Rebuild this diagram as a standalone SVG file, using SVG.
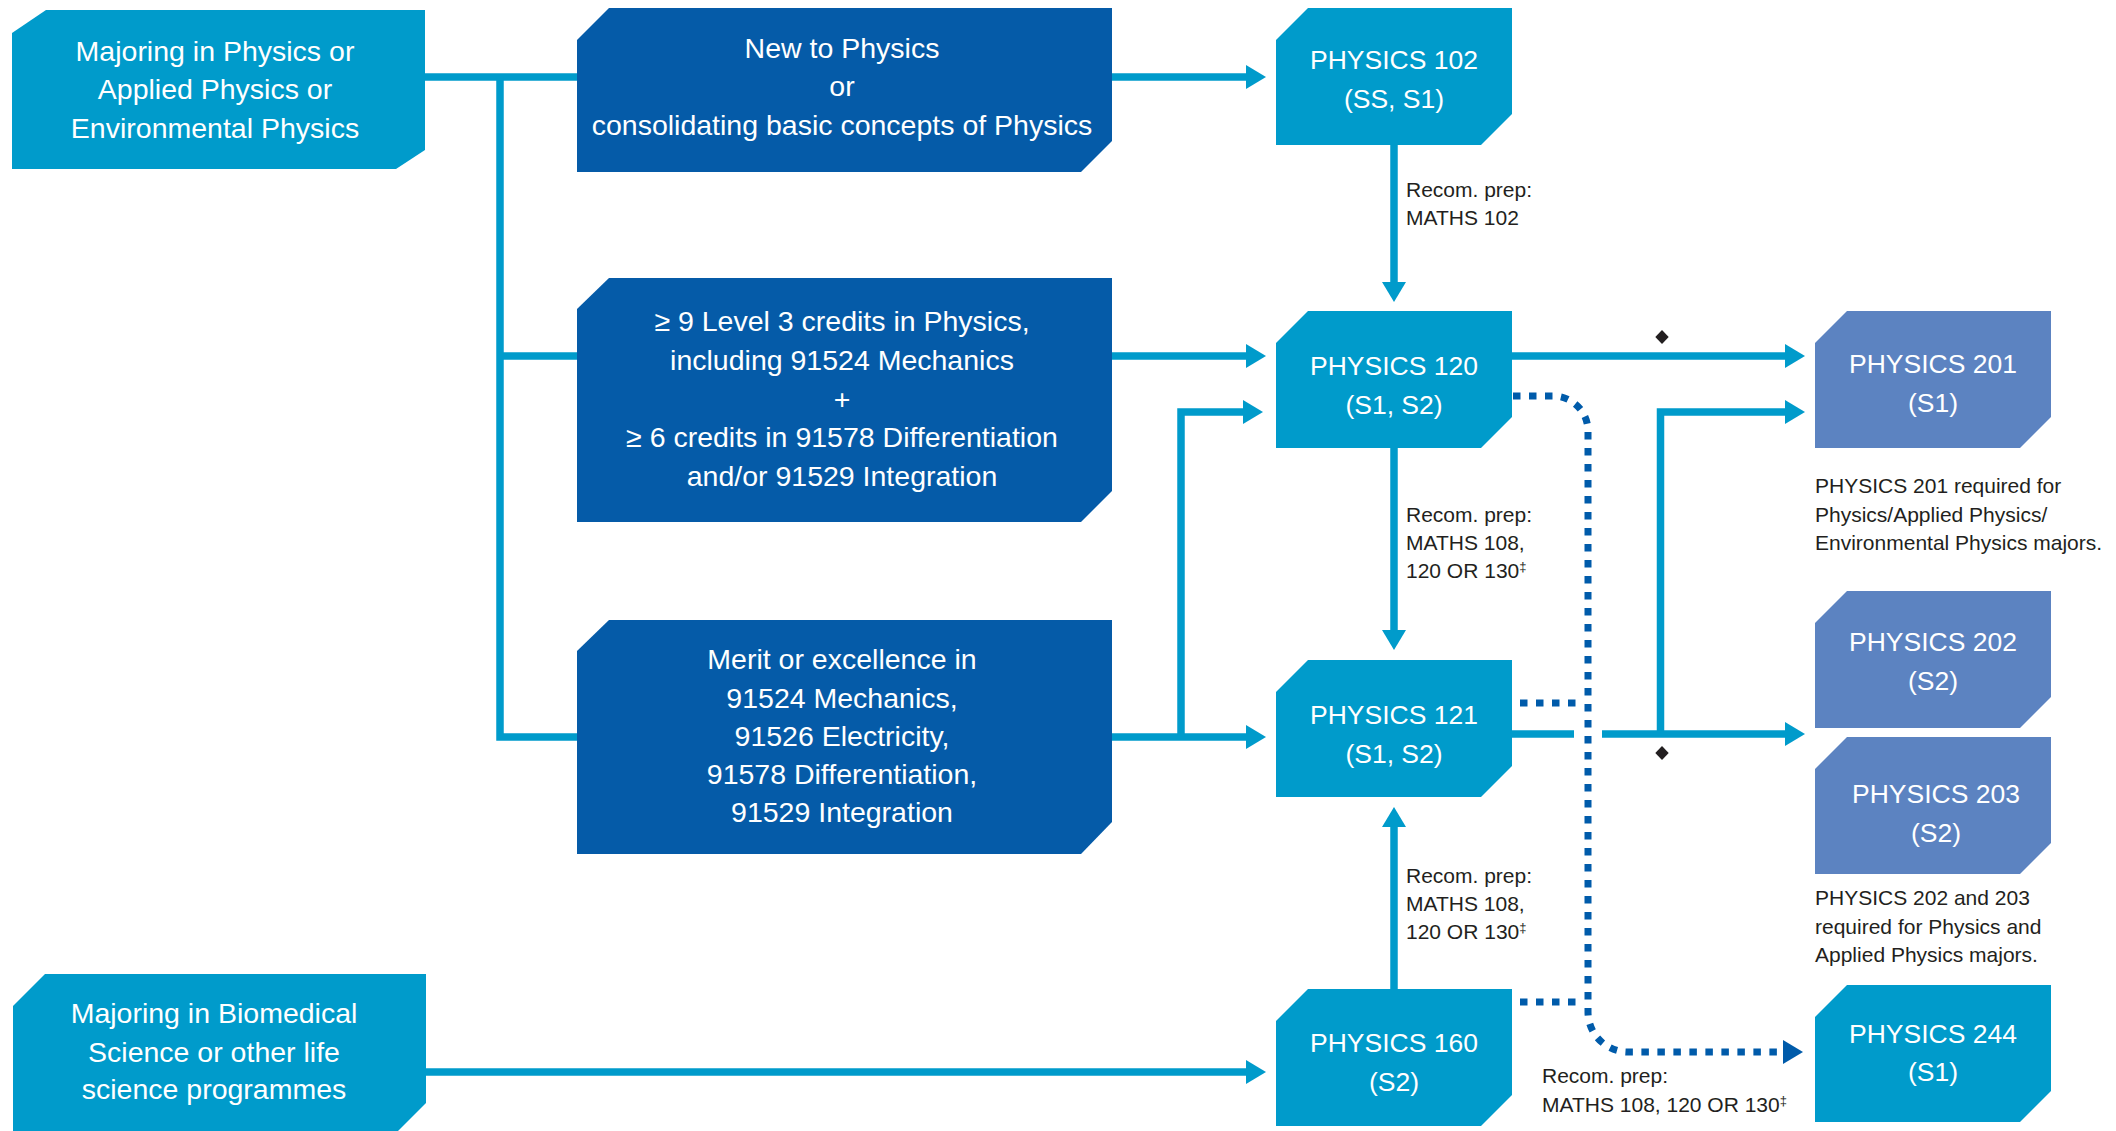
<svg xmlns="http://www.w3.org/2000/svg" xmlns:xlink="http://www.w3.org/1999/xlink" width="2116" height="1131" viewBox="0 0 2116 1131">
<style>
.lt{fill:#009BCB}
.dk{fill:#055BA8}
.pu{fill:#5C83C1}
.nt{font-family:"Liberation Sans",Arial,sans-serif;fill:#FFFFFF;text-anchor:middle}
.big{font-size:28.5px}
.crs{font-size:26.5px}
.note{font-family:"Liberation Sans",Arial,sans-serif;font-size:21px;fill:#231F20}
.sup{font-size:13px}
.ln{fill:none;stroke:#009BCB;stroke-width:7.5}
.dot{fill:none;stroke:#005BAA;stroke-width:7;stroke-dasharray:7.5 8.5}
.dia{fill:#231F20}
</style>
<defs>
<path id="course" d="M0,32 L32,0 L236,0 L236,106 L205,137 L0,137 Z"/>
<marker id="ah" markerUnits="userSpaceOnUse" markerWidth="22" markerHeight="26" refX="1" refY="12" orient="auto" overflow="visible">
<path d="M0,0 L20,12 L0,24 Z" fill="#009BCB"/>
</marker>
<marker id="ahd" markerUnits="userSpaceOnUse" markerWidth="22" markerHeight="26" refX="1" refY="12" orient="auto" overflow="visible">
<path d="M0,0 L20,12 L0,24 Z" fill="#005BAA"/>
</marker>
</defs>
<rect width="2116" height="1131" fill="#FFFFFF"/>

<g id="connectors">
<path class="ln" d="M424,77 H578"/>
<path class="ln" d="M500,77 V737 H578"/>
<path class="ln" d="M500,356 H578"/>
<path class="ln" d="M1111,77 H1247" marker-end="url(#ah)"/>
<path class="ln" d="M1111,356 H1247" marker-end="url(#ah)"/>
<path class="ln" d="M1111,737 H1247" marker-end="url(#ah)"/>
<path class="ln" d="M1181,737 V412 H1244" marker-end="url(#ah)"/>
<path class="ln" d="M1394,144 V283" marker-end="url(#ah)"/>
<path class="ln" d="M1394,447 V631" marker-end="url(#ah)"/>
<path class="ln" d="M1394,990 V826" marker-end="url(#ah)"/>
<path class="ln" d="M425,1072 H1247" marker-end="url(#ah)"/>
<path class="ln" d="M1511,356 H1786" marker-end="url(#ah)"/>
<path class="ln" d="M1511,734 H1574"/>
<path class="ln" d="M1602,734 H1786" marker-end="url(#ah)"/>
<path class="ln" d="M1660.5,734 V412 H1786" marker-end="url(#ah)"/>
<polygon class="dia" points="1662,330 1668.7,337 1662,344 1655.3,337"/>
<polygon class="dia" points="1662,746 1668.7,753 1662,760 1655.3,753"/>
<path class="dot" d="M1513,396 H1553 A35,35 0 0 1 1588,431 V1012 A40,40 0 0 0 1628,1052 H1784" marker-end="url(#ahd)"/>
<path class="dot" d="M1520,703 H1580"/>
<path class="dot" d="M1520,1002 H1580"/>
</g>

<g id="node-majoring-physics">
<polygon class="lt" points="12,33 46,10 425,10 425,150 396,169 12,169"/>
<text class="nt big" x="215" y="61">Majoring in Physics or</text>
<text class="nt big" x="215" y="99">Applied Physics or</text>
<text class="nt big" x="215" y="137.7">Environmental Physics</text>
</g>

<g id="node-new-to-physics">
<polygon class="dk" points="577,40 609,8 1112,8 1112,141 1081,172 577,172"/>
<text class="nt big" x="842" y="58">New to Physics</text>
<text class="nt big" x="842" y="96">or</text>
<text class="nt big" x="842" y="134.6">consolidating basic concepts of Physics</text>
</g>

<g id="node-level3-credits">
<polygon class="dk" points="577,309 609,278 1112,278 1112,491 1081,522 577,522"/>
<text class="nt big" x="842" y="331.4">≥ 9 Level 3 credits in Physics,</text>
<text class="nt big" x="842" y="370">including 91524 Mechanics</text>
<text class="nt big" x="842" y="408.6">+</text>
<text class="nt big" x="842" y="447.2">≥ 6 credits in 91578 Differentiation</text>
<text class="nt big" x="842" y="485.8">and/or 91529 Integration</text>
</g>

<g id="node-merit-excellence">
<polygon class="dk" points="577,651 609,620 1112,620 1112,822 1081,854 577,854"/>
<text class="nt big" x="842" y="668.5">Merit or excellence in</text>
<text class="nt big" x="842" y="707.5">91524 Mechanics,</text>
<text class="nt big" x="842" y="745.7">91526 Electricity,</text>
<text class="nt big" x="842" y="784">91578 Differentiation,</text>
<text class="nt big" x="842" y="822.2">91529 Integration</text>
</g>

<g id="node-biomedical">
<polygon class="lt" points="13,1006 45,974 426,974 426,1103 394,1135 13,1135"/>
<text class="nt big" x="214" y="1023">Majoring in Biomedical</text>
<text class="nt big" x="214" y="1061.8">Science or other life</text>
<text class="nt big" x="214" y="1099">science programmes</text>
</g>

<g id="node-physics-102">
<use xlink:href="#course" href="#course" class="lt" x="1276" y="8"/>
<text class="nt crs" x="1394" y="69">PHYSICS 102</text>
<text class="nt crs" x="1394" y="107.5">(SS, S1)</text>
</g>

<g id="node-physics-120">
<use xlink:href="#course" href="#course" class="lt" x="1276" y="311"/>
<text class="nt crs" x="1394" y="375">PHYSICS 120</text>
<text class="nt crs" x="1394" y="413.5">(S1, S2)</text>
</g>

<g id="node-physics-121">
<use xlink:href="#course" href="#course" class="lt" x="1276" y="660"/>
<text class="nt crs" x="1394" y="724">PHYSICS 121</text>
<text class="nt crs" x="1394" y="762.5">(S1, S2)</text>
</g>

<g id="node-physics-160">
<use xlink:href="#course" href="#course" class="lt" x="1276" y="989"/>
<text class="nt crs" x="1394" y="1052">PHYSICS 160</text>
<text class="nt crs" x="1394" y="1090.5">(S2)</text>
</g>

<g id="node-physics-201">
<use xlink:href="#course" href="#course" class="pu" x="1815" y="311"/>
<text class="nt crs" x="1933" y="373">PHYSICS 201</text>
<text class="nt crs" x="1933" y="411.5">(S1)</text>
</g>

<g id="node-physics-202">
<use xlink:href="#course" href="#course" class="pu" x="1815" y="591"/>
<text class="nt crs" x="1933" y="651">PHYSICS 202</text>
<text class="nt crs" x="1933" y="689.5">(S2)</text>
</g>

<g id="node-physics-203">
<use xlink:href="#course" href="#course" class="pu" x="1815" y="737"/>
<text class="nt crs" x="1936" y="803">PHYSICS 203</text>
<text class="nt crs" x="1936" y="841.5">(S2)</text>
</g>

<g id="node-physics-244">
<use xlink:href="#course" href="#course" class="lt" x="1815" y="985"/>
<text class="nt crs" x="1933" y="1042.5">PHYSICS 244</text>
<text class="nt crs" x="1933" y="1081">(S1)</text>
</g>

<g id="labels">
<text class="note" x="1406" y="197">Recom. prep:</text>
<text class="note" x="1406" y="225">MATHS 102</text>
<text class="note" x="1406" y="522">Recom. prep:</text>
<text class="note" x="1406" y="550">MATHS 108,</text>
<text class="note" x="1406" y="578">120 OR 130<tspan class="sup" dy="-7">‡</tspan></text>
<text class="note" x="1406" y="883">Recom. prep:</text>
<text class="note" x="1406" y="911">MATHS 108,</text>
<text class="note" x="1406" y="939">120 OR 130<tspan class="sup" dy="-7">‡</tspan></text>
<text class="note" x="1542" y="1083">Recom. prep:</text>
<text class="note" x="1542" y="1112">MATHS 108, 120 OR 130<tspan class="sup" dy="-7">‡</tspan></text>
<text class="note" x="1815" y="493">PHYSICS 201 required for</text>
<text class="note" x="1815" y="521.5">Physics/Applied Physics/</text>
<text class="note" x="1815" y="550">Environmental Physics majors.</text>
<text class="note" x="1815" y="905">PHYSICS 202 and 203</text>
<text class="note" x="1815" y="933.5">required for Physics and</text>
<text class="note" x="1815" y="962">Applied Physics majors.</text>
</g>
</svg>
